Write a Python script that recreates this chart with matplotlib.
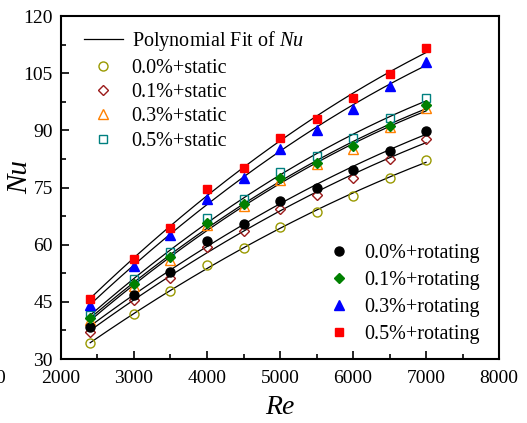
import matplotlib
matplotlib.use("Agg")
import matplotlib.pyplot as plt
import numpy as np
from matplotlib.ticker import MultipleLocator

plt.rcParams["font.family"] = ["Liberation Serif", "DejaVu Serif"]
plt.rcParams["mathtext.fontset"] = "custom"
plt.rcParams["mathtext.rm"] = "Liberation Serif"
plt.rcParams["mathtext.it"] = "Liberation Serif:italic"

re_values = [2400, 3000, 3500, 4000, 4500, 5000, 5500, 6000, 6500, 7000]

static_00 = [34.1, 41.8, 47.8, 54.8, 59.1, 64.6, 68.6, 72.9, 77.6, 82.2]
static_01 = [37.2, 45.5, 51.3, 59.5, 63.5, 69.4, 73.1, 77.4, 82.5, 87.7]
static_03 = [40.2, 49.1, 56.1, 65.1, 70.1, 76.9, 81.1, 85.2, 90.8, 95.9]
static_05 = [41.5, 50.9, 58.0, 66.9, 72.1, 79.2, 83.4, 88.0, 93.2, 98.5]

rot_00 = [38.5, 46.7, 52.8, 61.0, 65.4, 71.4, 75.0, 79.6, 84.5, 89.9]
rot_01 = [40.8, 49.7, 56.8, 65.7, 70.8, 77.4, 81.5, 85.9, 91.2, 96.6]
rot_03 = [44.1, 54.4, 62.5, 72.1, 77.6, 85.1, 90.2, 95.7, 101.7, 108.0]
rot_05 = [45.7, 56.3, 64.5, 74.5, 80.2, 88.0, 93.0, 98.5, 104.9, 111.5]

static_labels = ["0.0%+static", "0.1%+static", "0.3%+static", "0.5%+static"]
rot_labels = ["0.0%+rotating", "0.1%+rotating", "0.3%+rotating", "0.5%+rotating"]

fig = plt.figure(figsize=(5.27, 4.23), dpi=100)
ax = fig.add_axes([0.1157, 0.1513, 0.8313, 0.8107])

re = np.array(re_values, dtype=float)
re_fine = np.linspace(re.min(), re.max(), 200)

# quadratic fit through every series
all_series = [static_00, static_01, static_03, static_05, rot_00, rot_01, rot_03, rot_05]
fit_handle = None
for series in all_series:
    coef = np.polyfit(re, series, 2)
    (line,) = ax.plot(re_fine, np.polyval(coef, re_fine), color="black", lw=0.9, zorder=2)
    fit_handle = line

static_styles = [("o", "#999900", 6.5), ("D", "#9b1a1a", 5.5), ("^", "#ff8000", 6.5), ("s", "#008080", 5.5)]
rot_styles = [("o", "black", 6.5), ("D", "#008000", 5.5), ("^", "#0000ff", 6.5), ("s", "#ff0000", 5.5)]

static_handles = []
for series, (mk, col, ms), label in zip([static_00, static_01, static_03, static_05], static_styles, static_labels):
    (h,) = ax.plot(re, series, linestyle="none", marker=mk, markersize=ms,
                   markerfacecolor="none", markeredgecolor=col, markeredgewidth=1.0,
                   label=label, zorder=3)
    static_handles.append(h)

rot_handles = []
for series, (mk, col, ms), label in zip([rot_00, rot_01, rot_03, rot_05], rot_styles, rot_labels):
    (h,) = ax.plot(re, series, linestyle="none", marker=mk, markersize=ms,
                   color=col, label=label, zorder=3)
    rot_handles.append(h)

ax.set_xlim(2000, 8000)
ax.set_ylim(30, 120)
ax.xaxis.set_major_locator(MultipleLocator(1000))
ax.xaxis.set_minor_locator(MultipleLocator(500))
ax.yaxis.set_major_locator(MultipleLocator(15))
ax.yaxis.set_minor_locator(MultipleLocator(7.5))
ax.tick_params(which="both", direction="in", labelsize=14, width=1.2)
ax.tick_params(axis="x", pad=8)
ax.tick_params(axis="y", pad=6)
ax.tick_params(which="major", length=6)
ax.tick_params(which="minor", length=3.5)
for spine in ax.spines.values():
    spine.set_linewidth(1.5)

ax.set_xlabel("Re", fontsize=20, style="italic", labelpad=6)
ax.set_ylabel("Nu", fontsize=21, style="italic")
ax.yaxis.set_label_coords(-0.064, 0.53)

leg1 = ax.legend([fit_handle] + static_handles,
                 ["Polynomial Fit of $\\it{Nu}$"] + static_labels,
                 loc="upper left", frameon=False, fontsize=14.5,
                 handlelength=1.9, handletextpad=0.45, labelspacing=0.26,
                 borderaxespad=0.0, bbox_to_anchor=(0.035, 0.985))
ax.add_artist(leg1)
ax.legend(rot_handles, rot_labels, loc="lower right", frameon=False, fontsize=14.5,
          handlelength=1.0, handletextpad=0.75, labelspacing=0.4,
          borderaxespad=0.0, bbox_to_anchor=(0.974, 0.02))

fig.text(0.0, 0.106, "0", fontsize=14, ha="center", va="center")

fig.savefig("out.png", dpi=100)
